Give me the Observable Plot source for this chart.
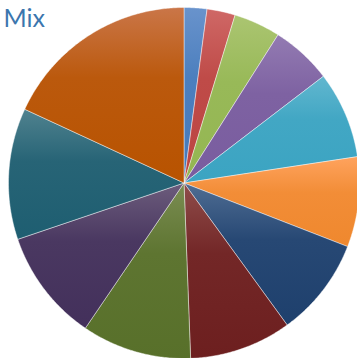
<!DOCTYPE html>
<html>
<head>
<meta charset="utf-8">
<script src="https://cdn.jsdelivr.net/npm/d3@7"></script>
<script src="https://cdn.jsdelivr.net/npm/@observablehq/plot@0.6"></script>
<style>
  html, body { margin: 0; padding: 0; background: #fff; overflow: hidden; }
  #chart svg { display: block; }
</style>
</head>
<body>
<div id="chart"></div>
<script>
// Data (percent of total, clockwise from 12 o'clock)
const categories = ["A1","A2","A3","A4","A5","A6","A7","A8","A9","A10","A11","A12"];
const values = [2.1, 2.6, 4.3, 5.6, 8.0, 8.3, 9.1, 9.4, 10.1, 10.3, 12.1, 18.1];
const title = "Mix";

// Palette (Excel-style gradient: top tint -> bottom shade)
const topColors = ["#6993cc","#cf6866","#abc571","#937bb2","#62b7cf","#ffa35e","#4f6d93","#8f4d4b","#7b8d53","#6c5c7c","#50828f","#ca7648"];
const bottomColors = ["#467abb","#bc4542","#94b652","#795c9f","#3ba4c2","#ef882e","#1e406d","#6d1f1f","#58702a","#43305b","#1e5e71","#b85300"];

// Build slice polygons from d3.pie angles
const pie = d3.pie().sort(null).value(d => d.value);
const arcs = pie(categories.map((c, i) => ({cat: c, value: values[i], i})));
const pts = [];
for (const a of arcs) {
  const n = Math.max(2, Math.ceil((a.endAngle - a.startAngle) / (Math.PI / 360)));
  pts.push({cat: a.data.cat, x: 0, y: 0});
  for (let k = 0; k <= n; k++) {
    const t = a.startAngle + (a.endAngle - a.startAngle) * k / n;
    pts.push({cat: a.data.cat, x: Math.sin(t), y: Math.cos(t)});
  }
  pts.push({cat: a.data.cat, x: 0, y: 0});
}

const gradIds = categories.map((c, i) => `url(#grad${i})`);

const plot = Plot.plot({
  width: 357,
  height: 358,
  margin: 0,
  x: {domain: [-1, 1], range: [8, 359], axis: null},
  y: {domain: [-1, 1], range: [358, 7], axis: null},
  color: {type: "ordinal", domain: categories, range: gradIds},
  marks: [
    Plot.line(pts, {x: "x", y: "y", z: "cat", fill: "cat", stroke: "#ffffff", strokeOpacity: 0.55, strokeWidth: 0.8, curve: "linear"}),
    Plot.text([title], {text: d => d, frameAnchor: "top-left", textAnchor: "start", lineAnchor: "top", dx: 3, dy: 9, fontSize: 25, fill: "#3b76ae", fontFamily: "Lato"})
  ]
});

// Gradient definitions
const svg = d3.select(plot);
const defs = svg.insert("defs", ":first-child");
categories.forEach((c, i) => {
  const g = defs.append("linearGradient").attr("id", `grad${i}`)
    .attr("x1", 0).attr("y1", 0).attr("x2", 0).attr("y2", 1);
  g.append("stop").attr("offset", "0%").attr("stop-color", topColors[i]);
  g.append("stop").attr("offset", "40%").attr("stop-color", d3.interpolateRgb(topColors[i], bottomColors[i])(0.82));
  g.append("stop").attr("offset", "100%").attr("stop-color", bottomColors[i]);
});
document.getElementById("chart").appendChild(plot);
</script>
</body>
</html>
